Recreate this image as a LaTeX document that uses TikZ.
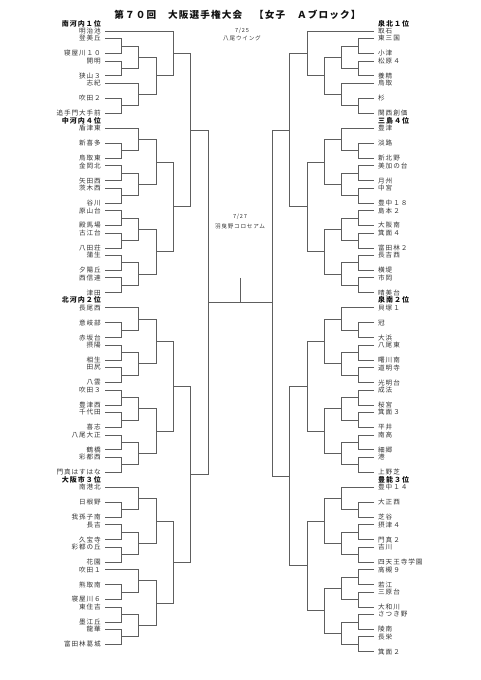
\documentclass[tikz,border=0pt]{standalone}
\usepackage{fontspec}
\usepackage{tikz}
\usetikzlibrary{calc}
\newfontfamily\jpname[LetterSpace=14]{Noto Sans CJK JP}
\newfontfamily\jptitle[LetterSpace=12]{Noto Sans CJK JP}
\definecolor{tnink}{HTML}{333333}
\definecolor{tnline}{HTML}{5E5E5E}
\definecolor{tnhead}{HTML}{111111}
\tikzset{
  tnteamL/.style={anchor=east, inner xsep=4pt, inner ysep=0.5pt, text=tnink,
                  font=\jpname\fontsize{6.6}{7}\selectfont},
  tnteamR/.style={tnteamL, anchor=west},
  tnheadL/.style={tnteamL, text=tnhead, font=\jpname\bfseries\fontsize{7}{8}\selectfont},
  tnheadR/.style={tnheadL, anchor=west},
  tnvenue/.style={inner sep=0.5pt, text=tnink, font=\jpname\fontsize{5.6}{6}\selectfont},
  tnedge/.style={draw=tnline, line width=0.8pt},
}

\begin{document}
\begin{tikzpicture}[x=1pt,y=-7.48pt]
  \useasboundingbox (0,-4.1444) rectangle (481,86.765);
  % title
  \node[text=tnhead, font=\jptitle\bfseries\fontsize{9.6}{11}\selectfont] (title) at (237.5,-2.14)
    {第７０回　大阪選手権大会　【女子　Ａブロック】};

  % columns
  \coordinate (Lc1) at (121.5,0);  \coordinate (Rc1) at (358.5,0);
  \coordinate (Lc2) at (138.5,0);  \coordinate (Rc2) at (341.5,0);
  \coordinate (Lc3) at (156,0);    \coordinate (Rc3) at (324,0);
  \coordinate (Lc4) at (173,0);    \coordinate (Rc4) at (307,0);
  \coordinate (Lc5) at (190.5,0);  \coordinate (Rc5) at (289.5,0);
  \coordinate (Lc6) at (208,0);    \coordinate (Rc6) at (272,0);

  % seeds
  \foreach \r/\t in {-1/南河内１位,12/中河内４位,36/北河内２位,60/大阪市３位}
    {\node[tnheadL] (LH\r) at (105,\r) {\t};}
  \foreach \r/\t in {-1/泉北１位,12/三島４位,36/泉南２位,60/豊能３位}
    {\node[tnheadR] (RH\r) at (374,\r) {\t};}

  % left teams
  \foreach \r/\t in {0/明治池,1/登美丘,3/寝屋川１０,4/開明,6/狭山３,7/志紀,9/吹田２,
      11/追手門大手前,13/盾津東,15/新喜多,17/鳥取東,18/金岡北,20/矢田西,21/茨木西,
      23/谷川,24/原山台,26/殿馬場,27/古江台,29/八田荘,30/蒲生,32/夕陽丘,33/西信達,
      35/津田,37/長尾西,39/意岐部,41/赤坂台,42/摂陽,44/相生,45/田尻,47/八雲,
      48/吹田３,50/豊津西,51/千代田,53/喜志,54/八尾大正,56/鶴橋,57/彩都西,
      59/門真はすはな,61/南港北,63/日根野,65/我孫子南,66/長吉,68/久宝寺,
      69/彩都の丘,71/花園,72/吹田１,74/熊取南,76/寝屋川６,77/東住吉,79/墨江丘,
      80/龍華,82/富田林葛城}
    {\node[tnteamL] (L\r) at (105,\r) {\t};}

  % right teams
  \foreach \r/\t in {0/取石,1/東三国,3/小津,4/松原４,6/養精,7/鳥取,9/杉,11/関西創価,
      13/豊津,15/淡路,17/新北野,18/美加の台,20/月州,21/中宮,23/豊中１８,24/島本２,
      26/大阪南,27/箕面４,29/富田林２,30/長吉西,32/横堤,33/市岡,35/晴美台,
      37/貝塚１,39/冠,41/大浜,42/八尾東,44/曙川南,45/道明寺,47/光明台,48/成法,
      50/桜宮,51/箕面３,53/平井,54/南高,56/細郷,57/港,59/上野芝,61/豊中１４,
      63/大正西,65/芝谷,66/摂津４,68/門真２,69/吉川,71/四天王寺学園,72/高槻９,
      74/若江,75/三原台,77/大和川,78/さつき野,80/陵南,81/長栄,83/箕面２}
    {\node[tnteamR] (R\r) at (374,\r) {\t};}

  % round 1
  \foreach \m/\a/\b/\c in {LA1/L1/L3/Lc1,LA2/L4/L6/Lc1,LA3/L9/L11/Lc1,LA4/L15/L17/Lc1,
      LA5/L18/L20/Lc1,LA6/L21/L23/Lc1,LA7/L24/L26/Lc1,LA8/L27/L29/Lc1,LA9/L30/L32/Lc1,
      LA10/L33/L35/Lc1,LA11/L39/L41/Lc1,LA12/L42/L44/Lc1,LA13/L45/L47/Lc1,
      LA14/L48/L50/Lc1,LA15/L51/L53/Lc1,LA16/L54/L56/Lc1,LA17/L57/L59/Lc1,
      LA18/L63/L65/Lc1,LA19/L66/L68/Lc1,LA20/L69/L71/Lc1,LA21/L74/L76/Lc1,
      LA22/L77/L79/Lc1,LA23/L80/L82/Lc1}
    {\draw[tnedge] (\a.east) -- (\a.east -| \c) -- (\b.east -| \c) -- (\b.east);
     \coordinate (\m) at ($(\a.east -| \c)!0.5!(\b.east -| \c)$);}
  \foreach \m/\a/\b/\c in {RA1/R1/R3/Rc1,RA2/R4/R6/Rc1,RA3/R9/R11/Rc1,RA4/R15/R17/Rc1,
      RA5/R18/R20/Rc1,RA6/R21/R23/Rc1,RA7/R24/R26/Rc1,RA8/R27/R29/Rc1,RA9/R30/R32/Rc1,
      RA10/R33/R35/Rc1,RA11/R39/R41/Rc1,RA12/R42/R44/Rc1,RA13/R45/R47/Rc1,
      RA14/R48/R50/Rc1,RA15/R51/R53/Rc1,RA16/R54/R56/Rc1,RA17/R57/R59/Rc1,
      RA18/R63/R65/Rc1,RA19/R66/R68/Rc1,RA20/R69/R71/Rc1,RA21/R72/R74/Rc1,
      RA22/R75/R77/Rc1,RA23/R78/R80/Rc1,RA24/R81/R83/Rc1}
    {\draw[tnedge] (\a.west) -- (\a.west -| \c) -- (\b.west -| \c) -- (\b.west);
     \coordinate (\m) at ($(\a.west -| \c)!0.5!(\b.west -| \c)$);}

  % later rounds
  \foreach \m/\a/\b/\c in {LB1/LA1/LA2/Lc2,LB2/L7.east/LA3/Lc2,LB3/L13.east/LA4/Lc2,
      LB4/LA5/LA6/Lc2,LB5/LA7/LA8/Lc2,LB6/LA9/LA10/Lc2,LB7/L37.east/LA11/Lc2,
      LB8/LA12/LA13/Lc2,LB9/LA14/LA15/Lc2,LB10/LA16/LA17/Lc2,LB11/L61.east/LA18/Lc2,
      LB12/LA19/LA20/Lc2,LB13/L72.east/LA21/Lc2,LB14/LA22/LA23/Lc2,
      RB1/RA1/RA2/Rc2,RB2/R7.west/RA3/Rc2,RB3/R13.west/RA4/Rc2,
      RB4/RA5/RA6/Rc2,RB5/RA7/RA8/Rc2,RB6/RA9/RA10/Rc2,RB7/R37.west/RA11/Rc2,
      RB8/RA12/RA13/Rc2,RB9/RA14/RA15/Rc2,RB10/RA16/RA17/Rc2,RB11/R61.west/RA18/Rc2,
      RB12/RA19/RA20/Rc2,RB13/RA21/RA22/Rc2,RB14/RA23/RA24/Rc2}
    {\draw[tnedge] (\a) -- (\a -| \c) -- (\b -| \c) -- (\b);
     \coordinate (\m) at ($(\a -| \c)!0.5!(\b -| \c)$);}
  \foreach \s/\k in {L/Lc3,R/Rc3}
    {\foreach \m/\a/\b in {C1/B1/B2,C2/B3/B4,C3/B5/B6,C4/B7/B8,C5/B9/B10,C6/B11/B12,C7/B13/B14}
      {\draw[tnedge] (\s\a) -- (\s\a -| \k) -- (\s\b -| \k) -- (\s\b);
       \coordinate (\s\m) at ($(\s\a -| \k)!0.5!(\s\b -| \k)$);}}
  \foreach \m/\a/\b/\c in {LD1/L0.east/LC1/Lc4,LD2/LC2/LC3/Lc4,LD3/LC4/LC5/Lc4,LD4/LC6/LC7/Lc4,
      RD1/R0.west/RC1/Rc4,RD2/RC2/RC3/Rc4,RD3/RC4/RC5/Rc4,RD4/RC6/RC7/Rc4,
      LE1/LD1/LD2/Lc5,LE2/LD3/LD4/Lc5,RE1/RD1/RD2/Rc5,RE2/RD3/RD4/Rc5,
      LF/LE1/LE2/Lc6,RF/RE1/RE2/Rc6}
    {\draw[tnedge] (\a) -- (\a -| \c) -- (\b -| \c) -- (\b);
     \coordinate (\m) at ($(\a -| \c)!0.5!(\b -| \c)$);}

  % final
  \draw[tnedge] (LF) -- (LF -| RF);
  \coordinate (champ) at (240,33.0);
  \draw[tnedge] (champ) -- (champ |- LF);

  % venues
  \node[tnvenue] (day1) at (242,0) {7/25};
  \node[tnvenue] (hall1) at (242,1) {八尾ウイング};
  \node[tnvenue] (day2) at (240,24.8) {7/27};
  \node[tnvenue] (hall2) at (240,26.1) {羽曳野コロセアム};
\end{tikzpicture}
\end{document}
